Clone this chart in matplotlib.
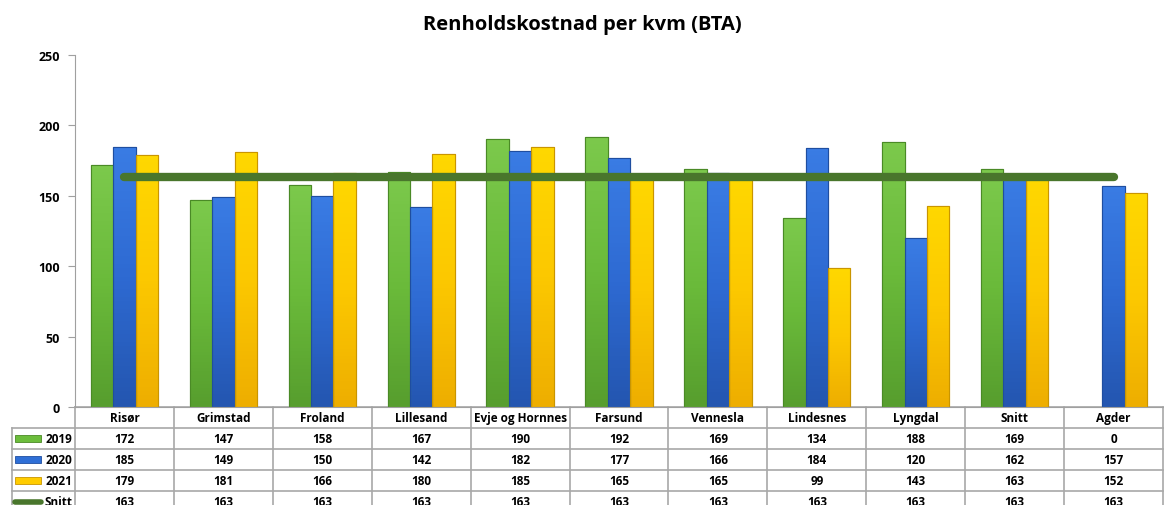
import matplotlib
matplotlib.use("Agg")
import matplotlib.pyplot as plt
from matplotlib.patches import Rectangle
from matplotlib.lines import Line2D
from matplotlib.colors import LinearSegmentedColormap
import numpy as np

plt.rcParams['font.family'] = ['Open Sans', 'DejaVu Sans']

categories = ["Risør", "Grimstad", "Froland", "Lillesand", "Evje og Hornnes",
              "Farsund", "Vennesla", "Lindesnes", "Lyngdal", "Snitt", "Agder"]
v2019 = [172, 147, 158, 167, 190, 192, 169, 134, 188, 169, 0]
v2020 = [185, 149, 150, 142, 182, 177, 166, 184, 120, 162, 157]
v2021 = [179, 181, 166, 180, 185, 165, 165, 99, 143, 163, 152]
snitt = [163, 163, 163, 163, 163, 163, 163, 163, 163, 163, 163]
series_names = ["2019", "2020", "2021", "Snitt"]

c_green = "#6cbd3c"
c_green_e = "#4a8a26"
c_blue = "#2f6fd6"
c_blue_e = "#1f4ea0"
c_yellow = "#ffcc00"
c_yellow_e = "#c99500"
c_line = "#49762c"
# gradient stops: bottom -> top
grad = {
    c_green: ["#579e2e", "#6aba3a", "#7cc94c"],
    c_blue: ["#2456b0", "#2e6ad2", "#3a7ce4"],
    c_yellow: ["#eeae00", "#fcc800", "#ffd800"],
}

W, H = 1164, 506
fig = plt.figure(figsize=(W / 100, H / 100), dpi=100)
ax = fig.add_axes([75 / W, (H - 408) / H, (1163 - 75) / W, (408 - 56) / H])

x = np.arange(len(categories))
bw = 0.227
for off, vals, fc, ec in [(-bw, v2019, c_green, c_green_e),
                          (0, v2020, c_blue, c_blue_e),
                          (bw, v2021, c_yellow, c_yellow_e)]:
    bars = ax.bar(x + off, vals, bw, color=fc, edgecolor=ec, linewidth=0.8, zorder=2)
    cmap = LinearSegmentedColormap.from_list("g", grad[fc])
    for b in bars:
        h = b.get_height()
        if h <= 0:
            continue
        x0 = b.get_x()
        g = np.linspace(0, 1, 64).reshape(-1, 1)
        im = ax.imshow(g, cmap=cmap, extent=[x0, x0 + bw, 0, h], aspect='auto',
                       zorder=2.1, origin='lower')
        im.set_clip_path(b)
        ax.add_patch(Rectangle((x0, 0), bw, h, facecolor='none', edgecolor=ec,
                               lw=0.8, zorder=2.3))
ax.plot(x, snitt, color=c_line, lw=6, solid_capstyle='round', zorder=3)

ax.set_xlim(-0.5, len(categories) - 0.5)
ax.set_ylim(0, 250)
ax.set_yticks([0, 50, 100, 150, 200, 250])
ax.set_yticklabels([str(v) for v in [0, 50, 100, 150, 200, 250]], fontweight='bold', fontsize=9)
ax.set_xticks([])
for s in ['top', 'right']:
    ax.spines[s].set_visible(False)
ax.spines['left'].set_color('#a0a0a0')
ax.spines['bottom'].set_color('#a0a0a0')
ax.tick_params(axis='y', colors='#a0a0a0', labelcolor='black', length=5, pad=6)

fig.text(0.5, (H - 25) / H, "Renholdskostnad per kvm (BTA)", ha='center', va='center',
         fontsize=14.5, fontweight='bold')

# data table
axh_px = 408 - 56
rh = 21 / axh_px  # row height in axes fraction
trans = ax.get_xaxis_transform()
gc = '#a8a8a8'
n = len(categories)
left_label = -0.5 - 63 / 99.0
rows = [v2019, v2020, v2021, snitt]
for r in range(0, 5):
    y = -r * rh
    x0 = -0.5 if r == 0 else left_label
    ax.add_line(Line2D([x0, n - 0.5], [y, y], transform=trans, color=gc, lw=1.2, clip_on=False))
for i in range(n + 1):
    ax.add_line(Line2D([i - 0.5, i - 0.5], [0, -5 * rh], transform=trans, color=gc, lw=1.2, clip_on=False))
ax.add_line(Line2D([left_label, left_label], [-rh, -5 * rh], transform=trans, color=gc, lw=1.2, clip_on=False))
for i, c in enumerate(categories):
    ax.text(i, -0.5 * rh, c, transform=trans, ha='center', va='center', fontsize=8.5,
            fontweight='bold', clip_on=False)
for r, vals in enumerate(rows):
    yc = -(r + 1.5) * rh
    for i, v in enumerate(vals):
        ax.text(i, yc, str(v), transform=trans, ha='center', va='center', fontsize=8.5,
                fontweight='bold', clip_on=False)
    ax.text(-0.5 - 3 / 99.0, yc, series_names[r], transform=trans, ha='right', va='center',
            fontsize=8.5, fontweight='bold', clip_on=False)
keycols = [(c_green, c_green_e), (c_blue, c_blue_e), (c_yellow, c_yellow_e)]
kx0 = left_label + 3 / 99.0
kw = 26 / 99.0
for r, (fc, ec) in enumerate(keycols):
    yc = -(r + 1.5) * rh
    ax.add_patch(Rectangle((kx0, yc - 3.5 / axh_px), kw, 7 / axh_px, transform=trans,
                           facecolor=fc, edgecolor=ec, lw=0.6, clip_on=False))
yc = -(3 + 1.5) * rh
ax.add_line(Line2D([kx0, kx0 + kw], [yc, yc], transform=trans, color=c_line, lw=4,
                   solid_capstyle='round', clip_on=False))

ax.set_xlim(-0.5, len(categories) - 0.5)
ax.set_ylim(0, 250)
fig.savefig("out.png", dpi=100)
